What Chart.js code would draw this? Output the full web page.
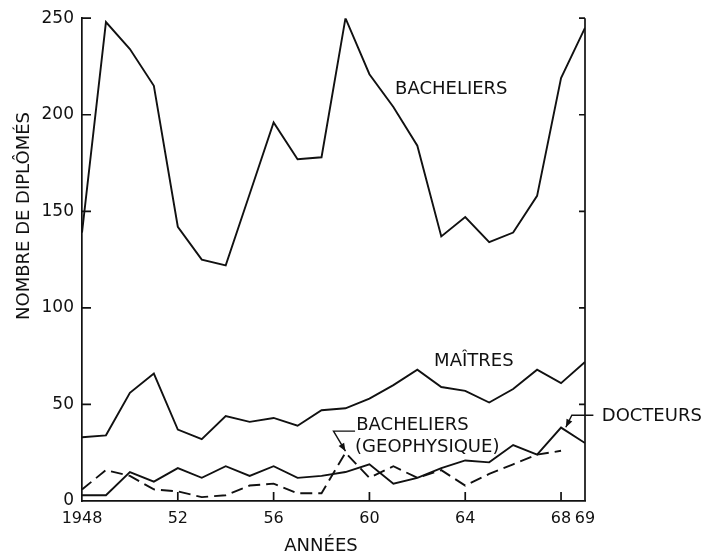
<!DOCTYPE html>
<html><head><meta charset="utf-8">
<script src="https://cdn.jsdelivr.net/npm/chart.js@4.4.1/dist/chart.umd.min.js"></script>
<style>html,body{margin:0;padding:0;background:#fff;}#wrap{width:704px;height:556px;position:relative;}</style>
</head><body><div id="wrap"><canvas id="c" width="704" height="556"></canvas></div>
<script>
const years = [1948,1949,1950,1951,1952,1953,1954,1955,1956,1957,1958,1959,1960,1961,1962,1963,1964,1965,1966,1967,1968,1969];
const bacheliers = [139,248,234,215,142,125,122,159,196,177,178,250,221,204,184,137,147,134,139,158,219,245];
const maitres = [33,34,56,66,37,32,44,41,43,39,47,48,53,60,68,59,57,51,58,68,61,72];
const docteurs = [3,3,15,10,17,12,18,13,18,12,13,15,19,9,12,17,21,20,29,24,38,30];
const geophysique = [6,16,13,6,5,2,3,8,9,4,4,25,12,18,12,16,8,14,19,24,26,null];
const xTickValues = [1948,1952,1956,1960,1964,1968,1969];
const xTickLabels = ['1948','52','56','60','64','68','69'];
const yTickValues = [0,50,100,150,200,250];
const innerXTicks = [1952,1956,1960,1964,1968];
const innerYTicks = [50,100,150,200,250];

const FONT = '"DejaVu Sans", sans-serif';
const INK = '#111';

function pts(arr){ return years.map((y,i)=>({x:y,y:arr[i]})); }

const decor = {
  id:'decor',
  afterDraw(chart){
    const ctx = chart.ctx, xs = chart.scales.x, ys = chart.scales.y, a = chart.chartArea;
    const X = v=>xs.getPixelForValue(v), Y = v=>ys.getPixelForValue(v);
    ctx.save();
    ctx.strokeStyle = INK; ctx.fillStyle = INK; ctx.lineWidth = 1.7;
    // right axis
    ctx.beginPath(); ctx.moveTo(a.right, a.top); ctx.lineTo(a.right, a.bottom); ctx.stroke();
    // inner ticks
    ctx.beginPath();
    innerYTicks.forEach(v=>{ const y=Y(v); ctx.moveTo(a.left,y); ctx.lineTo(a.left+9,y); ctx.moveTo(a.right,y); ctx.lineTo(a.right-6,y); });
    innerXTicks.forEach(v=>{ const x=X(v); ctx.moveTo(x,a.bottom); ctx.lineTo(x,a.bottom-9); });
    ctx.stroke();
    // labels
    ctx.font = '18px ' + FONT; ctx.textBaseline='middle'; ctx.textAlign='left';
    ctx.fillText('BACHELIERS', X(1961.07), Y(213.3));
    ctx.fillText('MAÎTRES', X(1962.7), Y(72.3));
    ctx.fillText('DOCTEURS', X(1969.7), Y(43.9));
    ctx.fillText('BACHELIERS', X(1959.45), Y(39.3));
    ctx.fillText('(GEOPHYSIQUE)', X(1959.4), Y(27.9));
    // leader lines
    ctx.lineWidth = 1.4;
    function arrow(x0,y0,x1,y1){
      const ang = Math.atan2(y1-y0,x1-x0), L=8, W=3.2;
      ctx.beginPath(); ctx.moveTo(x1,y1);
      ctx.lineTo(x1-L*Math.cos(ang)+W*Math.sin(ang), y1-L*Math.sin(ang)-W*Math.cos(ang));
      ctx.lineTo(x1-L*Math.cos(ang)-W*Math.sin(ang), y1-L*Math.sin(ang)+W*Math.cos(ang));
      ctx.closePath(); ctx.fill();
    }
    // docteurs leader
    let p0=[X(1969.35),Y(44.4)], p1=[X(1968.45),Y(44.4)], p2=[X(1968.2),Y(38.2)];
    ctx.beginPath(); ctx.moveTo(...p0); ctx.lineTo(...p1); ctx.lineTo(...p2); ctx.stroke();
    arrow(...p1,...p2);
    // geophysique leader
    let q0=[X(1959.4),Y(36.2)], q1=[X(1958.5),Y(36.2)], q2=[X(1959.0),Y(25.8)];
    ctx.beginPath(); ctx.moveTo(...q0); ctx.lineTo(...q1); ctx.lineTo(...q2); ctx.stroke();
    arrow(...q1,...q2);
    // axis titles
    ctx.font = '18px ' + FONT; ctx.textAlign='center';
    ctx.fillText('ANNÉES', 321, 546);
    ctx.translate(24, 216); ctx.rotate(-Math.PI/2);
    ctx.fillText('NOMBRE DE DIPLÔMÉS', 0, 0);
    ctx.restore();
  }
};

const ds = (label, arr, dash)=>({label, data:pts(arr), borderColor:INK, borderWidth:1.9, pointRadius:0, tension:0, fill:false, borderDash:dash||[], spanGaps:false});

new Chart(document.getElementById('c'), {
  type:'line',
  data:{ datasets:[ ds('Bacheliers', bacheliers), ds('Maîtres', maitres), ds('Docteurs', docteurs), ds('Bacheliers (géophysique)', geophysique, [12,6]) ] },
  options:{
    responsive:false, animation:false, devicePixelRatio:1,
    layout:{ padding:{ top:17, right:119, left:0, bottom:0 } },
    plugins:{ legend:{display:false}, tooltip:{enabled:false} },
    scales:{
      x:{ type:'linear', min:1948, max:1969,
        afterBuildTicks(s){ s.ticks = xTickValues.map(v=>({value:v})); },
        afterFit(s){ s.height = 55; },
        ticks:{ autoSkip:false, maxRotation:0, padding:8, color:INK, font:{family:FONT, size:16},
          callback:(v)=>{ const i=xTickValues.indexOf(v); return i>=0?xTickLabels[i]:''; } },
        grid:{ drawOnChartArea:false, drawTicks:false },
        border:{ display:true, color:INK, width:1.7 } },
      y:{ type:'linear', min:0, max:250,
        afterBuildTicks(s){ s.ticks = yTickValues.map(v=>({value:v})); },
        afterFit(s){ s.width = 82; },
        ticks:{ padding:8, color:INK, font:{family:FONT, size:17} },
        grid:{ drawOnChartArea:false, drawTicks:false },
        border:{ display:true, color:INK, width:1.7 } }
    }
  },
  plugins:[decor]
});
</script></body></html>
